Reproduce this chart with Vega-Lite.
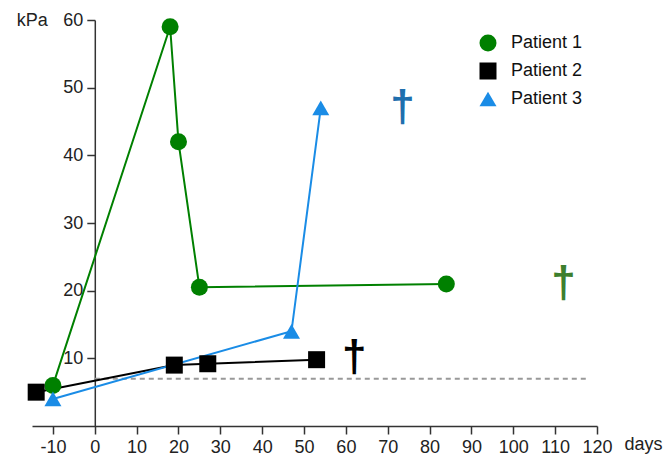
{
  "$schema": "https://vega.github.io/schema/vega-lite/v6.json",
  "width": 565,
  "height": 406,
  "autosize": "none",
  "padding": {"left": 32, "top": 20, "right": 70, "bottom": 33},
  "background": "white",
  "config": {
    "view": {"stroke": null},
    "font": "Liberation Sans",
    "axis": {
      "grid": false,
      "domainColor": "#333333",
      "domainWidth": 1.5,
      "tickColor": "#333333",
      "tickWidth": 1.5,
      "tickSize": 8,
      "labelFont": "Liberation Sans",
      "labelFontSize": 18,
      "labelColor": "#222222",
      "labelOverlap": false,
      "labelFlush": false,
      "labelExpr": "'' + datum.value",
      "titleFont": "Liberation Sans",
      "titleFontSize": 18,
      "titleFontWeight": "normal",
      "titleColor": "#222222"
    },
    "legend": {
      "title": null,
      "orient": "none",
      "legendX": 447,
      "legendY": 14,
      "padding": 0,
      "labelFont": "Liberation Sans",
      "labelFontSize": 18,
      "labelColor": "#111111",
      "rowPadding": 10,
      "labelOffset": 14,
      "symbolSize": 289,
      "symbolStrokeWidth": 0
    }
  },
  "datasets": {
    "measurements": [
      {"patient": "Patient 1", "day": -10, "kpa": 6},
      {"patient": "Patient 1", "day": 18, "kpa": 59},
      {"patient": "Patient 1", "day": 20, "kpa": 42},
      {"patient": "Patient 1", "day": 25, "kpa": 20.5},
      {"patient": "Patient 1", "day": 84, "kpa": 21},
      {"patient": "Patient 2", "day": -14, "kpa": 5},
      {"patient": "Patient 2", "day": 19, "kpa": 9},
      {"patient": "Patient 2", "day": 27, "kpa": 9.2},
      {"patient": "Patient 2", "day": 53, "kpa": 9.8},
      {"patient": "Patient 3", "day": -10, "kpa": 4},
      {"patient": "Patient 3", "day": 47, "kpa": 14},
      {"patient": "Patient 3", "day": 54, "kpa": 47}
    ],
    "deaths": [
      {"patient": "Patient 1", "day": 112, "kpa": 21},
      {"patient": "Patient 2", "day": 62, "kpa": 10},
      {"patient": "Patient 3", "day": 73.5, "kpa": 47}
    ],
    "threshold": [
      {"day": 0, "kpa": 7},
      {"day": 118, "kpa": 7}
    ]
  },
  "layer": [
    {
      "data": {"name": "threshold"},
      "mark": {"type": "line", "color": "#999999", "strokeWidth": 2, "strokeDash": [5, 4]},
      "encoding": {
        "x": {
          "field": "day", "type": "quantitative",
          "scale": {"domain": [-15, 120], "nice": false, "zero": false},
          "axis": {
            "values": [-10, 0, 10, 20, 30, 40, 50, 60, 70, 80, 90, 100, 110, 120],
            "title": "days", "titleAngle": 0, "titleAlign": "center", "titleBaseline": "middle",
            "titleX": 611, "titleY": 18, "labelPadding": 4
          }
        },
        "y": {
          "field": "kpa", "type": "quantitative",
          "scale": {"domain": [0, 60], "nice": false},
          "axis": {
            "values": [10, 20, 30, 40, 50, 60],
            "offset": -62.8,
            "title": "kPa", "titleAngle": 0, "titleAlign": "center", "titleBaseline": "middle",
            "titleX": -63, "titleY": 0, "labelPadding": 4
          }
        }
      }
    },
    {
      "data": {"name": "measurements"},
      "mark": {"type": "line", "strokeWidth": 2},
      "encoding": {
        "x": {"field": "day", "type": "quantitative"},
        "y": {"field": "kpa", "type": "quantitative"},
        "color": {
          "field": "patient", "type": "nominal",
          "scale": {"domain": ["Patient 1", "Patient 2", "Patient 3"], "range": ["#008000", "#000000", "#1a8ce6"]}
        }
      }
    },
    {
      "data": {"name": "measurements"},
      "mark": {"type": "point", "filled": true, "opacity": 1},
      "encoding": {
        "x": {"field": "day", "type": "quantitative"},
        "y": {"field": "kpa", "type": "quantitative"},
        "color": {"field": "patient", "type": "nominal"},
        "shape": {
          "field": "patient", "type": "nominal",
          "scale": {"domain": ["Patient 1", "Patient 2", "Patient 3"], "range": ["circle", "square", "triangle-up"]}
        },
        "size": {"value": 289}
      }
    },
    {
      "data": {"name": "deaths"},
      "transform": [{"filter": "datum.patient === 'Patient 1'"}],
      "mark": {"type": "text", "text": "†", "fontSize": 44, "fontWeight": "bold", "font": "Liberation Sans", "baseline": "middle", "align": "center", "color": "#3d7f2e"},
      "encoding": {
        "x": {"field": "day", "type": "quantitative"},
        "y": {"field": "kpa", "type": "quantitative"}
      }
    },
    {
      "data": {"name": "deaths"},
      "transform": [{"filter": "datum.patient === 'Patient 2'"}],
      "mark": {"type": "text", "text": "†", "fontSize": 44, "fontWeight": "bold", "font": "Liberation Sans", "baseline": "middle", "align": "center", "color": "#000000"},
      "encoding": {
        "x": {"field": "day", "type": "quantitative"},
        "y": {"field": "kpa", "type": "quantitative"}
      }
    },
    {
      "data": {"name": "deaths"},
      "transform": [{"filter": "datum.patient === 'Patient 3'"}],
      "mark": {"type": "text", "text": "†", "fontSize": 44, "fontWeight": "bold", "font": "Liberation Sans", "baseline": "middle", "align": "center", "color": "#1f6fae"},
      "encoding": {
        "x": {"field": "day", "type": "quantitative"},
        "y": {"field": "kpa", "type": "quantitative"}
      }
    }
  ]
}
